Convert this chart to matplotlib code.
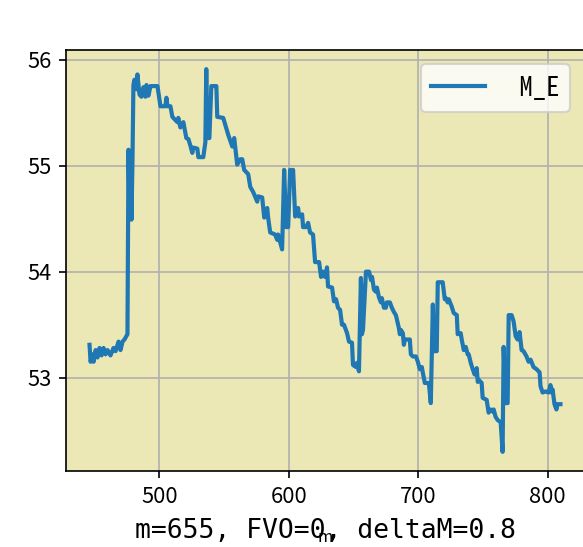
import matplotlib
matplotlib.use("Agg")
import matplotlib.pyplot as plt

plt.rcParams['font.family'] = ['Noto Sans CJK SC', 'DejaVu Sans']
plt.rcParams['axes.unicode_minus'] = False

# m values and M_E
m = [446.0, 446.8, 448.3, 449.1, 450.7, 452.2, 453.7, 455.3, 456.8, 458.4,
     459.9, 462.2, 464.5, 466.1, 468.4, 469.9, 471.5, 473.0, 475.3, 476.1,
     476.9, 477.6, 478.4, 479.2, 479.9, 480.7, 482.3, 483.0, 484.6, 486.1,
     487.7, 489.2, 490.0, 491.5, 493.1, 498.5, 500.8, 504.6, 505.4, 506.2,
     508.5, 510.0, 512.3, 513.9, 514.6, 516.2, 518.5, 520.8, 522.4, 523.9,
     525.4, 526.2, 529.3, 530.1, 533.9, 535.5, 536.2, 537.0, 538.6, 540.1,
     544.0, 544.7, 549.3, 552.4, 553.2, 556.3, 557.8, 560.1, 562.5, 564.0,
     565.5, 568.6, 570.2, 572.5, 575.6, 576.3, 579.4, 581.0, 583.3, 584.0,
     585.6, 589.4, 591.0, 591.7, 594.8, 596.4, 597.9, 599.5, 601.0, 602.5,
     603.3, 604.9, 607.2, 607.9, 610.3, 611.0, 613.3, 614.9, 616.4, 618.7,
     620.3, 623.4, 624.9, 626.4, 628.0, 629.5, 630.3, 633.4, 634.9, 636.5,
     638.0, 639.6, 641.1, 642.6, 645.0, 646.5, 648.8, 649.6, 651.9, 652.7,
     654.2, 655.7, 656.5, 657.3, 659.6, 662.0, 663.5, 664.3, 665.8, 667.3,
     668.1, 669.6, 671.2, 671.9, 673.5, 675.0, 675.8, 678.1, 679.6, 681.2,
     682.7, 683.5, 685.0, 685.8, 686.6, 688.1, 688.9, 689.7, 693.5, 694.3,
     695.8, 698.2, 699.7, 701.2, 702.8, 703.5, 705.1, 708.2, 709.7, 711.3,
     712.0, 714.3, 715.1, 718.9, 720.5, 721.3, 722.8, 723.6, 725.9, 727.4,
     729.8, 730.5, 732.8, 733.6, 735.2, 736.7, 738.2, 739.0, 740.6, 742.1,
     743.6, 745.2, 746.0, 746.7, 749.0, 749.8, 752.9, 754.4, 756.0, 757.5,
     758.3, 759.8, 761.4, 763.7, 765.2, 766.0, 767.5, 769.1, 769.9, 772.2,
     773.7, 775.3, 776.8, 778.3, 779.9, 781.4, 783.7, 785.3, 786.8, 789.1,
     791.4, 793.8, 794.5, 796.1, 798.4, 800.7, 802.2, 803.0, 803.8, 805.3,
     806.8, 807.6, 809.9]
m_e = [53.31, 53.15, 53.22, 53.15, 53.26, 53.19, 53.28, 53.21, 53.28, 53.22,
       53.26, 53.21, 53.28, 53.25, 53.34, 53.26, 53.34, 53.36, 53.41, 55.15,
       54.54, 55.10, 54.49, 55.06, 55.76, 55.81, 55.72, 55.86, 55.67, 55.65,
       55.74, 55.65, 55.76, 55.66, 55.75, 55.75, 55.56, 55.56, 55.64, 55.56,
       55.56, 55.46, 55.43, 55.41, 55.45, 55.36, 55.41, 55.26, 55.25, 55.19,
       55.12, 55.17, 55.16, 55.08, 55.08, 55.22, 55.91, 55.26, 55.26, 55.75,
       55.75, 55.46, 55.45, 55.32, 55.29, 55.18, 55.26, 55.01, 55.06, 55.06,
       54.96, 54.92, 54.80, 54.75, 54.66, 54.71, 54.70, 54.51, 54.60, 54.51,
       54.37, 54.35, 54.30, 54.35, 54.21, 54.96, 54.42, 54.42, 54.96, 54.90,
       54.96, 54.52, 54.60, 54.52, 54.54, 54.42, 54.42, 54.46, 54.37, 54.35,
       54.09, 54.09, 53.95, 54.00, 53.95, 54.04, 53.86, 53.85, 53.72, 53.74,
       53.66, 53.64, 53.50, 53.50, 53.42, 53.34, 53.33, 53.12, 53.10, 53.14,
       53.06, 53.94, 53.41, 53.45, 54.00, 54.00, 53.92, 53.95, 53.83, 53.81,
       53.85, 53.76, 53.71, 53.75, 53.66, 53.66, 53.71, 53.71, 53.66, 53.62,
       53.59, 53.55, 53.47, 53.41, 53.45, 53.42, 53.31, 53.36, 53.36, 53.22,
       53.20, 53.20, 53.15, 53.08, 53.10, 53.05, 52.95, 52.95, 52.76, 53.69,
       53.25, 53.25, 53.90, 53.90, 53.74, 53.75, 53.71, 53.74, 53.67, 53.61,
       53.59, 53.41, 53.42, 53.36, 53.26, 53.29, 53.22, 53.22, 53.14, 53.08,
       53.03, 53.09, 52.96, 52.98, 52.95, 52.81, 52.79, 52.67, 52.70, 52.68,
       52.70, 52.63, 52.60, 52.58, 52.30, 53.29, 52.76, 52.76, 53.59, 53.59,
       53.53, 53.39, 53.36, 53.43, 53.26, 53.25, 53.20, 53.15, 53.17, 53.10,
       53.08, 53.05, 52.92, 52.86, 52.87, 52.86, 52.93, 52.86, 52.89, 52.75,
       52.70, 52.75, 52.75]

xticks = [500, 600, 700, 800]
yticks = [53, 54, 55, 56]

fig = plt.figure(figsize=(583 / 150, 547 / 150), dpi=150)
ax = fig.add_axes([0.1132, 0.1389, 0.8885, 0.7697])
ax.set_facecolor('#ebe8b5')
ax.plot(m, m_e, color='#1f77b4', lw=2.0, label=' M_E')
ax.grid(True)
ax.set_xticks(xticks)
ax.set_yticks(yticks)
ax.tick_params(labelsize=10.5)

mono = ['Noto Sans Mono CJK SC', 'DejaVu Sans Mono']
ax.legend(loc='upper right', bbox_to_anchor=(570 / 583, 1 - 64 / 547),
          bbox_transform=fig.transFigure, borderaxespad=0,
          prop={'family': mono, 'size': 12.8})

ax.set_xlabel('m', fontsize=8)
ax.xaxis.label.set_va('baseline')
ax.xaxis.set_label_coords(0.5, -0.168)

fig.text(0.5575, 0.0159, 'm=655, FVO=0, deltaM=0.8', ha='center', va='baseline',
         fontsize=12.7, family='DejaVu Sans Mono')

fig.savefig('out.png', dpi=150)
